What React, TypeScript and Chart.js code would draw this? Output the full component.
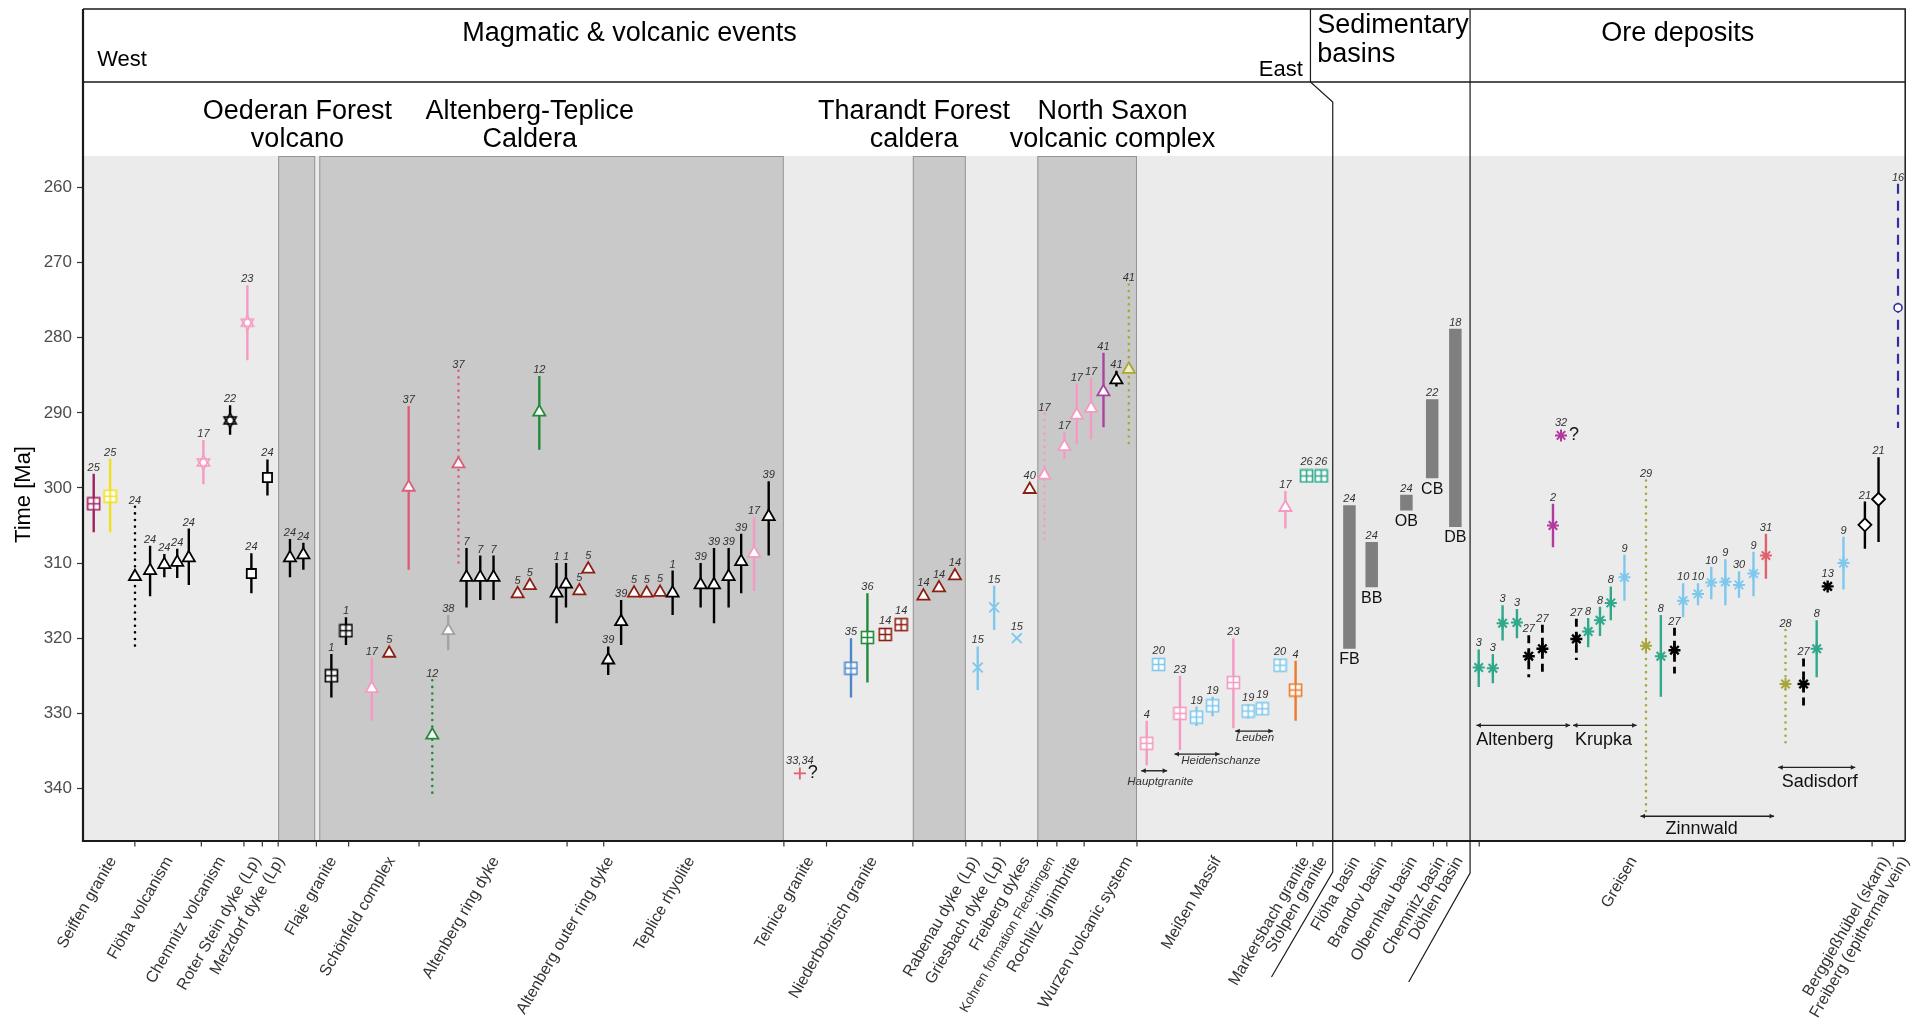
import React, { useEffect, useRef } from "react";
import { Chart, registerables } from "chart.js";

Chart.register(...registerables);

const FONT = '"Liberation Sans", Arial, Helvetica, sans-serif';

// ---------------- axes ----------------
const yTicks = [260, 270, 280, 290, 300, 310, 320, 330, 340];
const yMin = 255.8;
const yMax = 347.0;
const xMin = 0;
const xMax = 149.67;

// ---------------- colours ----------------
const palette: Record<string, string> = {
  black: "#000000",
  crimson: "#a3205f",
  yellow: "#f2e01e",
  pink: "#f59ac2",
  brown: "#8c1f12",
  rose: "#d9607a",
  green: "#228b3b",
  grey: "#a3a3a3",
  blue: "#4a86c8",
  sky: "#7ec8ee",
  purple: "#a8449f",
  olive: "#a7a63c",
  orange: "#ec7a2c",
  teal: "#2fa88b",
  magenta: "#b2399e",
  red: "#e0606e",
  indigo: "#2f2fa0",
};

// ---------------- data ----------------
// [position along profile, age (Ma), error min age, error max age, reference, marker, colour, line style]
type Row = [number, number, number | null, number | null, string, string, string, string];

const westGroup: Row[] = [
  [0.88, 302.1, 298.1, 305.9, "25", "sqplus", "crimson", "solid"],
  [2.23, 301.1, 296.1, 305.9, "25", "sqplus", "yellow", "solid"],
  [4.27, 311.8, 302.5, 321.1, "24", "tri", "black", "dot"],
  [5.51, 311.0, 307.7, 314.4, "24", "tri", "black", "solid"],
  [6.68, 310.2, 308.8, 311.9, "24", "tri", "black", "solid"],
  [7.74, 309.9, 308.1, 312.0, "24", "tri", "black", "solid"],
  [8.69, 309.3, 305.4, 312.9, "24", "tri", "black", "solid"],
  [9.89, 296.6, 293.6, 299.5, "17", "triud", "pink", "solid"],
  [12.08, 291.0, 289.0, 292.9, "22", "triud", "black", "solid"],
  [13.5, 278.0, 273.0, 283.0, "23", "triud", "pink", "solid"],
  [13.83, 311.4, 308.7, 314.0, "24", "sq", "black", "solid"],
  [15.15, 298.6, 296.2, 301.0, "24", "sq", "black", "solid"],
];

const oederanGroup: Row[] = [
  [17.0, 309.3, 306.8, 311.9, "24", "tri", "black", "solid"],
  [18.1, 308.9, 307.3, 310.9, "24", "tri", "black", "solid"],
];

const altenbergGroup: Row[] = [
  [20.4, 325.0, 322.1, 327.9, "1", "sqplus", "black", "solid"],
  [21.6, 319.0, 317.2, 320.9, "1", "sqplus", "black", "solid"],
  [23.72, 326.7, 322.6, 331.0, "17", "tri", "pink", "solid"],
  [25.15, 322.0, null, null, "5", "tri", "brown", "solid"],
  [26.75, 299.9, 289.1, 310.9, "37", "tri", "rose", "solid"],
  [28.69, 332.9, 325.6, 341.0, "12", "tri", "green", "dot"],
  [30.0, 319.0, 316.9, 321.6, "38", "tri", "grey", "solid"],
  [30.84, 296.8, 284.4, 310.1, "37", "tri", "rose", "dot"],
  [31.5, 311.9, 308.0, 315.9, "7", "tri", "black", "solid"],
  [32.63, 311.9, 309.0, 314.9, "7", "tri", "black", "solid"],
  [33.72, 311.9, 309.0, 314.9, "7", "tri", "black", "solid"],
  [35.7, 314.1, null, null, "5", "tri", "brown", "solid"],
  [36.7, 313.0, null, null, "5", "tri", "brown", "solid"],
  [37.48, 289.9, 285.1, 294.9, "12", "tri", "green", "solid"],
  [38.9, 314.0, 310.0, 318.0, "1", "tri", "black", "solid"],
  [39.67, 312.8, 310.0, 315.9, "1", "tri", "black", "solid"],
  [40.77, 313.7, null, null, "5", "tri", "brown", "solid"],
  [41.5, 310.8, null, null, "5", "tri", "brown", "solid"],
  [43.14, 322.9, 321.1, 324.9, "39", "tri", "black", "solid"],
  [44.2, 317.8, 314.9, 320.9, "39", "tri", "black", "solid"],
  [45.26, 314.0, null, null, "5", "tri", "brown", "solid"],
  [46.3, 314.0, null, null, "5", "tri", "brown", "solid"],
  [47.4, 313.9, null, null, "5", "tri", "brown", "solid"],
  [48.43, 314.0, 311.0, 316.9, "1", "tri", "black", "solid"],
  [50.73, 312.9, 310.0, 315.9, "39", "tri", "black", "solid"],
  [51.83, 312.9, 308.0, 318.0, "39", "tri", "black", "solid"],
  [53.03, 311.8, 308.0, 315.9, "39", "tri", "black", "solid"],
  [54.06, 309.8, 306.1, 314.0, "39", "tri", "black", "solid"],
  [55.12, 308.7, 303.9, 313.7, "17", "tri", "pink", "solid"],
  [56.32, 303.8, 299.1, 309.0, "39", "tri", "black", "solid"],
];

const tharandtGroup: Row[] = [
  [58.88, 338.0, null, null, "33,34", "plus", "red", "solid"],
  [63.08, 324.0, 320.0, 327.9, "35", "sqplus", "blue", "solid"],
  [64.43, 319.9, 314.0, 325.9, "36", "sqplus", "green", "solid"],
  [65.89, 319.5, null, null, "14", "sqplus", "brown", "solid"],
  [67.2, 318.2, null, null, "14", "sqplus", "brown", "solid"],
  [69.03, 314.4, null, null, "14", "tri", "brown", "solid"],
  [70.31, 313.3, null, null, "14", "tri", "brown", "solid"],
  [71.62, 311.7, null, null, "14", "tri", "brown", "solid"],
  [73.49, 323.9, 321.1, 326.9, "15", "xrot", "sky", "solid"],
  [74.84, 315.9, 313.0, 318.9, "15", "xrot", "sky", "solid"],
  [76.7, 320.0, null, null, "15", "xrot", "sky", "solid"],
];

const northSaxonGroup: Row[] = [
  [77.76, 300.2, null, null, "40", "tri", "brown", "solid"],
  [78.97, 298.3, 290.1, 307.3, "17", "tri", "pink", "dot"],
  [80.61, 294.5, 292.6, 296.1, "17", "tri", "pink", "solid"],
  [81.63, 290.3, 286.1, 294.2, "17", "tri", "pink", "solid"],
  [82.8, 289.4, 285.3, 293.5, "17", "tri", "pink", "solid"],
  [83.82, 287.2, 282.0, 291.9, "41", "tri", "purple", "solid"],
  [84.88, 285.6, 284.4, 286.5, "41", "tri", "black", "solid"],
  [85.9, 284.2, 272.9, 294.9, "41", "tri", "olive", "dot"],
];

const meissenGroup: Row[] = [
  [87.37, 334.0, 331.0, 336.9, "4", "sqplus", "pink", "solid"],
  [88.35, 323.5, null, null, "20", "sqplus", "sky", "solid"],
  [90.1, 330.0, 325.0, 334.9, "23", "sqplus", "pink", "solid"],
  [91.46, 330.5, 329.1, 331.7, "19", "sqplus", "sky", "solid"],
  [92.78, 329.0, 327.8, 330.4, "19", "sqplus", "sky", "solid"],
  [94.49, 325.9, 320.0, 332.0, "23", "sqplus", "pink", "solid"],
  [95.7, 329.7, 328.8, 330.7, "19", "sqplus", "sky", "solid"],
  [96.86, 329.4, null, null, "19", "sqplus", "sky", "solid"],
  [98.32, 323.6, null, null, "20", "sqplus", "sky", "solid"],
  [98.76, 302.6, 300.4, 305.4, "17", "tri", "pink", "solid"],
  [99.6, 326.9, 323.0, 331.0, "4", "sqplus", "orange", "solid"],
  [100.5, 298.4, null, null, "26", "sqplus", "teal", "solid"],
  [101.7, 298.4, null, null, "26", "sqplus", "teal", "solid"],
];

const oreAltenbergKrupka: Row[] = [
  [114.64, 323.9, 321.5, 326.5, "3", "star", "teal", "solid"],
  [115.8, 324.0, 322.1, 326.0, "3", "star", "teal", "solid"],
  [116.6, 318.0, 315.6, 320.3, "3", "star", "teal", "solid"],
  [117.78, 317.9, 316.1, 320.0, "3", "star", "teal", "solid"],
  [118.75, 322.4, 319.6, 325.2, "27", "star", "black", "dash"],
  [119.87, 321.4, 318.2, 324.7, "27", "star", "black", "dash"],
  [120.74, 305.0, 302.1, 307.9, "2", "star", "magenta", "solid"],
  [121.4, 293.0, null, null, "32", "star", "magenta", "solid"],
  [122.66, 320.1, 317.4, 322.9, "27", "star", "black", "dash"],
  [123.63, 319.1, 317.3, 321.2, "8", "star", "teal", "solid"],
  [124.6, 317.6, 315.8, 319.7, "8", "star", "teal", "solid"],
  [125.49, 315.3, 313.1, 317.6, "8", "star", "teal", "solid"],
  [126.61, 311.9, 308.9, 315.0, "9", "star", "sky", "solid"],
];

const oreZinnwald: Row[] = [
  [128.38, 321.0, 299.0, 343.1, "29", "star", "olive", "dot"],
  [129.6, 322.4, 316.9, 327.8, "8", "star", "teal", "solid"],
  [130.72, 321.6, 318.6, 324.7, "27", "star", "black", "dash"],
  [131.43, 315.0, 312.7, 317.2, "10", "star", "sky", "solid"],
  [132.65, 314.1, 312.7, 315.6, "10", "star", "sky", "solid"],
  [133.74, 312.6, 310.5, 314.8, "10", "star", "sky", "solid"],
  [134.9, 312.5, 309.5, 315.6, "9", "star", "sky", "solid"],
  [136.02, 312.9, 311.1, 314.6, "30", "star", "sky", "solid"],
  [137.21, 311.4, 308.5, 314.4, "9", "star", "sky", "solid"],
  [138.23, 309.0, 306.1, 312.1, "31", "star", "red", "solid"],
];

const oreSadisdorfAndOthers: Row[] = [
  [139.84, 326.1, 318.9, 334.1, "28", "star", "olive", "dot"],
  [141.32, 326.1, 322.7, 329.5, "27", "star", "black", "dash"],
  [142.4, 321.4, 317.6, 325.2, "8", "star", "teal", "solid"],
  [143.3, 313.1, null, null, "13", "star", "black", "solid"],
  [144.6, 310.0, 306.5, 313.5, "9", "star", "sky", "solid"],
  [146.36, 304.9, 301.8, 308.1, "21", "diamond", "black", "solid"],
  [147.48, 301.5, 295.9, 307.2, "21", "diamond", "black", "solid"],
  [149.08, 276.0, 259.5, 292.0, "16", "circle", "indigo", "dash"],
];

// uncertain ages marked with "?"
const questionMarks: [number, number][] = [
  [58.88, 338.0],
  [121.4, 293.0],
];

// sedimentary basins (floating bars)
const basinPos = [104.02, 105.85, 108.7, 110.82, 112.72];
const basinTop = [302.3, 307.2, 300.9, 288.2, 278.8];
const basinBottom = [321.4, 313.2, 303.0, 298.7, 305.2];
const basinRef = ["24", "24", "24", "22", "18"];
const basinName = ["FB", "BB", "OB", "CB", "DB"];

// shaded volcanic complexes
const bandStart = [16.03, 19.41, 68.16, 78.39];
const bandEnd = [19.07, 57.56, 72.51, 86.57];

// headers
const headerTexts: [string, number, number, CanvasTextAlign, number][] = [
  ["Magmatic & volcanic events", 44.89, 41, "center", 27],
  ["West", 1.17, 66, "left", 22],
  ["East", 100.19, 76, "right", 22],
  ["Sedimentary", 101.37, 33, "left", 27],
  ["basins", 101.37, 62, "left", 27],
  ["Ore deposits", 130.99, 41, "center", 27],
];
const complexTitles: [string, string, number][] = [
  ["Oederan Forest", "volcano", 17.61],
  ["Altenberg-Teplice", "Caldera", 36.7],
  ["Tharandt Forest", "caldera", 68.26],
  ["North Saxon", "volcanic complex", 84.56],
];

// locality brackets: [text, from, to, age of bracket, text x, text age, style]
const localities: [string, number, number, number, number, number, string][] = [
  ["Hauptgranite", 86.92, 89.05, 337.65, 88.47, 339.55, "small"],
  ["Heidenschanze", 89.65, 93.36, 335.43, 93.46, 336.76, "small"],
  ["Leuben", 94.64, 97.73, 332.37, 96.26, 333.7, "small"],
  ["Altenberg", 114.45, 122.15, 331.6, 117.61, 334.2, "large"],
  ["Krupka", 122.38, 127.61, 331.6, 124.89, 334.2, "large"],
  ["Zinnwald", 127.93, 138.9, 343.7, 132.95, 346.1, "large"],
  ["Sadisdorf", 139.24, 145.57, 337.2, 142.65, 339.8, "large"],
];

// x axis
const axisLabels = [
  "Seiffen granite", "Flöha volcanism", "Chemnitz volcanism", "Roter Stein dyke (Lp)",
  "Metzdorf dyke (Lp)", "Flaje granite", "Schönfeld complex", "Altenberg ring dyke",
  "Altenberg outer ring dyke", "Teplice rhyolite", "Telnice granite", "Niederbobrisch granite",
  "Rabenau dyke (Lp)", "Griesbach dyke (Lp)", "Freiberg dykes", "Kohren formation Flechtingen",
  "Rochlitz ignimbrite", "Wurzen volcanic system", "Meißen Massif", "Markersbach granite",
  "Stolpen granite", "Flöha basin", "Brandov basin", "Olbernhau basin", "Chemnitz basin",
  "Döhlen basin", "Greisen", "Berggießhübel (skarn)", "Freiberg (epithermal vein)",
];
const axisLabelPos = [
  2.45, 7.1, 11.4, 14.3, 16.25, 20.55, 25.35, 33.9, 43.3, 49.95, 59.75, 64.95, 73.3,
  75.45, 77.5, 79.6, 81.6, 85.9, 93.2, 100.45, 101.9, 104.6, 106.8, 109.3, 111.6,
  113.05, 127.35, 148.1, 149.7,
];
const axisTickPos = [
  4.26, 9.72, 13.22, 14.73, 16.03, 19.17, 21.82, 27.6, 39.76, 42.77, 57.57, 61.07, 68.16,
  72.51, 73.84, 75.34, 78.39, 79.99, 82.23, 86.57, 99.68, 101.02, 106.11, 107.5, 110.92,
  112.02, 114.68, 146.95, 148.69,
];

// section dividers (profile positions)
const sedHeadPos = 100.82;
const sedLinePos = 102.65;
const sedFootPos = 97.62;
const oreLinePos = 113.93;
const oreFootPos = 108.89;

const allRows: Row[] = [
  ...westGroup, ...oederanGroup, ...altenbergGroup, ...tharandtGroup, ...northSaxonGroup,
  ...meissenGroup, ...oreAltenbergKrupka, ...oreZinnwald, ...oreSadisdorfAndOthers,
];

// ---------------- layout constants ----------------
const W = 1914;
const H = 1018;
const FRAME_TOP = 9;
const HEADER_BOTTOM = 82;
const PLOT_TOP = 156;
const PLOT_LEFT = 83;
const PLOT_BOTTOM = 841;
const PLOT_RIGHT = 1910;

// ---------------- marker images ----------------
function makeSqPlus(color: string) {
  const c = document.createElement("canvas");
  c.width = 15;
  c.height = 15;
  const g = c.getContext("2d")!;
  g.fillStyle = "#ffffff";
  g.fillRect(1.5, 1.5, 12, 12);
  g.strokeStyle = color;
  g.lineWidth = 1.6;
  g.strokeRect(1.5, 1.5, 12, 12);
  g.beginPath();
  g.moveTo(7.5, 1.5);
  g.lineTo(7.5, 13.5);
  g.moveTo(1.5, 7.5);
  g.lineTo(13.5, 7.5);
  g.stroke();
  return c;
}

function makeTriUD(color: string) {
  const c = document.createElement("canvas");
  c.width = 17;
  c.height = 17;
  const g = c.getContext("2d")!;
  const cx = 8.5, cy = 8.5, r = 7;
  const s = Math.sin(Math.PI / 3) * r;
  const tri = (dir: number) => {
    g.beginPath();
    g.moveTo(cx, cy - dir * r);
    g.lineTo(cx + s, cy + dir * r / 2);
    g.lineTo(cx - s, cy + dir * r / 2);
    g.closePath();
  };
  g.fillStyle = "#ffffff";
  tri(1); g.fill();
  tri(-1); g.fill();
  g.strokeStyle = color;
  g.lineWidth = 1.6;
  tri(1); g.stroke();
  tri(-1); g.stroke();
  return c;
}

type Spec = { style: any; r: number; bw: number; bg: string; half: number };

function markerSpec(shape: string, colorKey: string, imgs: any): Spec {
  const col = palette[colorKey];
  switch (shape) {
    case "tri":
      return { style: "triangle", r: 7, bw: 1.8, bg: colorKey === "olive" ? "#efefc0" : "#ffffff", half: 7 };
    case "sqplus":
      return { style: imgs.sq[colorKey], r: 7, bw: 0, bg: "#fff", half: 7.5 };
    case "triud":
      return { style: imgs.ud[colorKey], r: 7, bw: 0, bg: "#fff", half: 7.5 };
    case "sq":
      return { style: "rect", r: 6.5, bw: 1.8, bg: "#ffffff", half: 4.6 };
    case "plus":
      return { style: "cross", r: 6, bw: 1.8, bg: col, half: 6 };
    case "xrot":
      return { style: "crossRot", r: 7, bw: 1.8, bg: col, half: 5 };
    case "star":
      return { style: "star", r: 6, bw: colorKey === "black" ? 2.4 : 2, bg: col, half: 6 };
    case "diamond":
      return { style: "rectRot", r: 6.5, bw: 1.8, bg: "#ffffff", half: 6.5 };
    default:
      return { style: "circle", r: 4, bw: 1.6, bg: "#ffffff", half: 4 };
  }
}

function drawBracket(ctx: CanvasRenderingContext2D, x1: number, x2: number, y: number) {
  ctx.beginPath();
  ctx.moveTo(x1, y);
  ctx.lineTo(x2, y);
  ctx.stroke();
  const h = 4.5, w = 2.4;
  ctx.beginPath();
  ctx.moveTo(x1, y); ctx.lineTo(x1 + h, y - w); ctx.lineTo(x1 + h, y + w); ctx.closePath();
  ctx.moveTo(x2, y); ctx.lineTo(x2 - h, y - w); ctx.lineTo(x2 - h, y + w); ctx.closePath();
  ctx.fill();
}

export default function App() {
  const ref = useRef<HTMLCanvasElement>(null);

  useEffect(() => {
    document.body.style.margin = "0";
    document.body.style.overflow = "hidden";
    const canvas = ref.current!;

    const imgs: any = { sq: {}, ud: {} };
    Object.keys(palette).forEach((k) => {
      imgs.sq[k] = makeSqPlus(palette[k]);
      imgs.ud[k] = makeTriUD(palette[k]);
    });
    const specs = allRows.map((r) => markerSpec(r[5], r[6], imgs));

    const errorDatasets: any[] = allRows
      .filter((r) => r[2] !== null)
      .map((r) => {
        const st = r[7];
        const isIndigo = r[6] === "indigo";
        return {
          type: "line",
          data: [
            { x: r[0], y: r[2] },
            { x: r[0], y: r[3] },
          ],
          showLine: true,
          borderColor: palette[r[6]],
          borderWidth: st === "dot" ? 2.6 : st === "dash" ? (isIndigo ? 2.2 : 2.8) : 2.4,
          borderDash: st === "dot" ? [0.01, 6.6] : st === "dash" ? (isIndigo ? [10, 7] : [8, 5]) : [],
          borderCapStyle: st === "dot" ? "round" : "butt",
          pointRadius: 0,
          fill: false,
          tension: 0,
          order: 2,
        };
      });

    const basinDatasets: any[] = basinPos.map((p, i) => ({
      type: "line",
      data: [
        { x: p, y: basinTop[i] },
        { x: p, y: basinBottom[i] },
      ],
      showLine: true,
      borderColor: "#7f7f7f",
      borderWidth: 12.5,
      borderCapStyle: "butt",
      pointRadius: 0,
      fill: false,
      order: 3,
    }));

    const markerDataset: any = {
      type: "scatter",
      data: allRows.map((r) => ({ x: r[0], y: r[1] })),
      pointStyle: specs.map((s) => s.style),
      pointRadius: specs.map((s) => s.r),
      pointBorderWidth: specs.map((s) => s.bw),
      pointBorderColor: allRows.map((r) => palette[r[6]]),
      pointBackgroundColor: specs.map((s) => s.bg),
      order: 0,
    };

    const overlay = {
      id: "overlay",
      beforeDraw(chart: any) {
        const { ctx, chartArea: ca } = chart;
        const xs = chart.scales.x;
        ctx.save();
        ctx.fillStyle = "#ffffff";
        ctx.fillRect(0, 0, chart.width, chart.height);
        ctx.fillStyle = "#ebebeb";
        ctx.fillRect(ca.left, ca.top, ca.right - ca.left, ca.bottom - ca.top);
        bandStart.forEach((s, i) => {
          const x1 = xs.getPixelForValue(s);
          const x2 = xs.getPixelForValue(bandEnd[i]);
          ctx.fillStyle = "#c9c9c9";
          ctx.fillRect(x1, ca.top, x2 - x1, ca.bottom - ca.top);
          ctx.strokeStyle = "#959595";
          ctx.lineWidth = 1;
          ctx.strokeRect(x1 + 0.5, ca.top + 0.5, x2 - x1 - 1, ca.bottom - ca.top);
        });
        ctx.restore();
      },
      afterDatasetsDraw(chart: any) {
        const { ctx } = chart;
        const xs = chart.scales.x, ys = chart.scales.y;
        ctx.save();
        // reference numbers
        ctx.font = `italic 11px ${FONT}`;
        ctx.fillStyle = "#333333";
        ctx.textAlign = "center";
        ctx.textBaseline = "alphabetic";
        allRows.forEach((r, i) => {
          const px = xs.getPixelForValue(r[0]);
          let top = ys.getPixelForValue(r[1]) - specs[i].half;
          if (r[2] !== null) top = Math.min(top, ys.getPixelForValue(r[2]));
          ctx.fillText(r[4], px, top - 3);
        });
        basinPos.forEach((p, i) => {
          ctx.fillText(basinRef[i], xs.getPixelForValue(p), ys.getPixelForValue(basinTop[i]) - 3);
        });
        // basin names
        ctx.font = `16px ${FONT}`;
        ctx.fillStyle = "#111111";
        ctx.textBaseline = "top";
        basinPos.forEach((p, i) => {
          ctx.fillText(basinName[i], xs.getPixelForValue(p), ys.getPixelForValue(basinBottom[i]) + 3);
        });
        // question marks
        ctx.font = `18px ${FONT}`;
        ctx.textAlign = "left";
        ctx.textBaseline = "middle";
        questionMarks.forEach(([p, a]) => {
          ctx.fillText("?", xs.getPixelForValue(p) + 8, ys.getPixelForValue(a));
        });
        // locality brackets
        ctx.strokeStyle = "#222222";
        ctx.fillStyle = "#222222";
        ctx.lineWidth = 1.4;
        localities.forEach(([t, a, b, age, tx, tage, kind]) => {
          drawBracket(ctx, xs.getPixelForValue(a), xs.getPixelForValue(b), ys.getPixelForValue(age));
          ctx.font = kind === "small" ? `italic 11.5px ${FONT}` : `18px ${FONT}`;
          ctx.textAlign = "center";
          ctx.textBaseline = "alphabetic";
          ctx.fillStyle = kind === "small" ? "#333333" : "#111111";
          ctx.fillText(t, xs.getPixelForValue(tx), ys.getPixelForValue(tage));
          ctx.fillStyle = "#222222";
        });
        ctx.restore();
      },
      afterDraw(chart: any) {
        const { ctx, chartArea: ca } = chart;
        const xs = chart.scales.x;
        const X = (v: number) => xs.getPixelForValue(v);
        ctx.save();
        // frame
        ctx.strokeStyle = "#1a1a1a";
        ctx.lineWidth = 1.5;
        ctx.beginPath();
        ctx.moveTo(ca.left, FRAME_TOP);
        ctx.lineTo(ca.right, FRAME_TOP);
        ctx.lineTo(ca.right, ca.bottom);
        ctx.moveTo(ca.left, HEADER_BOTTOM);
        ctx.lineTo(ca.right, HEADER_BOTTOM);
        ctx.stroke();
        ctx.lineWidth = 2.2;
        ctx.beginPath();
        ctx.moveTo(ca.left, FRAME_TOP);
        ctx.lineTo(ca.left, ca.bottom);
        ctx.lineTo(ca.right, ca.bottom);
        ctx.stroke();
        // section dividers
        ctx.lineWidth = 1.2;
        ctx.beginPath();
        ctx.moveTo(X(sedHeadPos), FRAME_TOP);
        ctx.lineTo(X(sedHeadPos), HEADER_BOTTOM);
        ctx.lineTo(X(sedLinePos), HEADER_BOTTOM + 20);
        ctx.lineTo(X(sedLinePos), ca.bottom + 31);
        ctx.lineTo(X(sedFootPos), ca.bottom + 136);
        ctx.moveTo(X(oreLinePos), FRAME_TOP);
        ctx.lineTo(X(oreLinePos), ca.bottom + 32);
        ctx.lineTo(X(oreFootPos), ca.bottom + 141);
        ctx.stroke();
        // x ticks
        ctx.strokeStyle = "#333333";
        ctx.lineWidth = 1.2;
        ctx.beginPath();
        axisTickPos.forEach((p) => {
          ctx.moveTo(X(p), ca.bottom);
          ctx.lineTo(X(p), ca.bottom + 5.5);
        });
        ctx.stroke();
        // x labels
        ctx.fillStyle = "#333333";
        ctx.textAlign = "right";
        ctx.textBaseline = "middle";
        axisLabels.forEach((t, i) => {
          ctx.save();
          ctx.translate(X(axisLabelPos[i]), ca.bottom + 17);
          ctx.rotate(-Math.PI / 3);
          ctx.font = t.startsWith("Kohren") ? `13.5px ${FONT}` : `16px ${FONT}`;
          ctx.fillText(t, 0, 0);
          ctx.restore();
        });
        // headers
        ctx.fillStyle = "#000000";
        ctx.textBaseline = "alphabetic";
        headerTexts.forEach(([t, p, y, align, size]) => {
          ctx.font = `${size}px ${FONT}`;
          ctx.textAlign = align;
          ctx.fillText(t, X(p), y);
        });
        ctx.font = `27px ${FONT}`;
        ctx.textAlign = "center";
        complexTitles.forEach(([a, b, p]) => {
          ctx.fillText(a, X(p), 119);
          ctx.fillText(b, X(p), 147);
        });
        // y title, centred on the panel
        ctx.save();
        ctx.translate(23.5, (ca.top + ca.bottom) / 2 - 4);
        ctx.rotate(-Math.PI / 2);
        ctx.font = `22px ${FONT}`;
        ctx.textAlign = "center";
        ctx.textBaseline = "middle";
        ctx.fillText("Time [Ma]", 0, 0);
        ctx.restore();
        ctx.restore();
      },
    };

    const chart = new Chart(canvas, {
      type: "scatter",
      data: { datasets: [markerDataset, ...errorDatasets, ...basinDatasets] },
      options: {
        responsive: false,
        animation: false,
        devicePixelRatio: 1,
        events: [],
        layout: { padding: { top: PLOT_TOP, right: W - PLOT_RIGHT, bottom: 0, left: 0 } },
        plugins: { legend: { display: false }, tooltip: { enabled: false }, title: { display: false } },
        scales: {
          x: {
            type: "linear",
            min: xMin,
            max: xMax,
            ticks: { display: false },
            grid: { display: false },
            border: { display: false },
            afterFit: (s: any) => {
              s.height = H - PLOT_BOTTOM;
            },
          },
          y: {
            type: "linear",
            reverse: true,
            min: yMin,
            max: yMax,
            afterBuildTicks: (s: any) => {
              s.ticks = yTicks.map((v) => ({ value: v }));
            },
            afterFit: (s: any) => {
              s.width = PLOT_LEFT;
            },
            ticks: {
              font: { size: 17, family: FONT },
              color: "#4d4d4d",
              padding: 5,
              callback: (v: any) => String(v),
            },
            grid: {
              drawOnChartArea: false,
              drawTicks: true,
              tickLength: 6,
              tickColor: "#333333",
              tickWidth: 1.2,
            },
            border: { display: false },
          },
        },
      } as any,
      plugins: [overlay],
    } as any);

    return () => chart.destroy();
  }, []);

  return (
    <div style={{ position: "fixed", left: 0, top: 0, width: W, height: H, background: "#fff" }}>
      <canvas ref={ref} width={W} height={H} style={{ display: "block", width: W, height: H }} />
    </div>
  );
}
